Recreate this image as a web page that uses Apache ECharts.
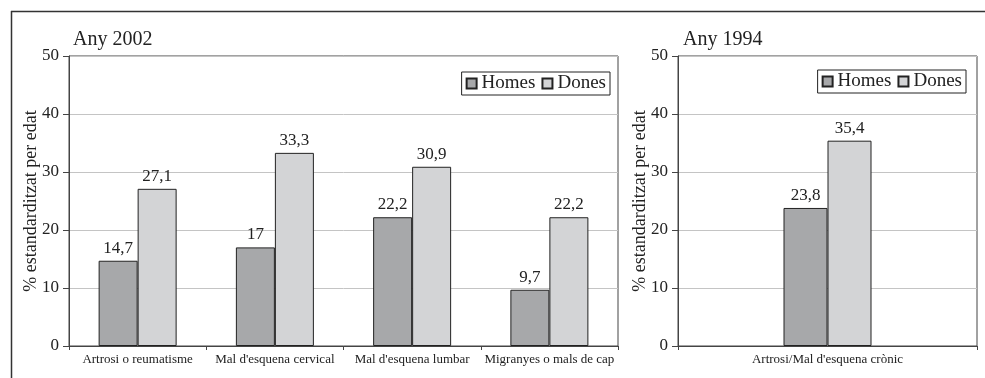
<!DOCTYPE html>
<html>
<head>
<meta charset="utf-8">
<script src="https://cdn.jsdelivr.net/npm/echarts@6/dist/echarts.min.js"></script>
<style>
  html, body { margin: 0; padding: 0; background: #fff; }
  #chart { width: 985px; height: 378px; }
</style>
</head>
<body>
<div id="chart"></div>
<script>
// Prevalence of musculoskeletal complaints, age-standardised %
const categories2002 = ['Artrosi o reumatisme', "Mal d'esquena cervical", "Mal d'esquena lumbar", 'Migranyes o mals de cap'];
const homes2002 = [14.7, 17, 22.2, 9.7];
const dones2002 = [27.1, 33.3, 30.9, 22.2];

const categories1994 = ["Artrosi/Mal d'esquena crònic"];
const homes1994 = [23.8];
const dones1994 = [35.4];

const yTicks = { min: 0, max: 50, interval: 10 };
const seriesNames = ['Homes', 'Dones'];

const FONT = '"Liberation Serif", "DejaVu Serif", serif';
const INK = '#222';
const COLOR_H = '#a7a8aa';
const COLOR_D = '#d3d4d6';

const fmt = p => String(p.value).replace('.', ',');

function yAxis(gridIndex) {
  return {
    type: 'value', gridIndex,
    min: yTicks.min, max: yTicks.max, interval: yTicks.interval,
    name: '% estandarditzat per edat',
    nameLocation: 'middle', nameRotate: 90, nameGap: 29, nameMoveOverlap: false,
    nameTextStyle: { fontFamily: FONT, fontSize: 18, color: INK },
    axisLine: { show: true, lineStyle: { color: '#444', width: 1 } },
    axisTick: { show: true, length: 6, lineStyle: { color: '#444' } },
    axisLabel: { fontFamily: FONT, fontSize: 17, color: INK, margin: 10 },
    splitLine: { lineStyle: { color: '#c4c4c4', width: 1 } }
  };
}
function xAxis(gridIndex, data) {
  return {
    type: 'category', gridIndex, data,
    axisLine: { show: true, lineStyle: { color: '#444', width: 1 } },
    axisTick: { show: true, length: 4, alignWithLabel: false, lineStyle: { color: '#444' } },
    axisLabel: { fontFamily: FONT, fontSize: 13, color: INK, margin: 7, interval: 0 }
  };
}
function bar(name, xIdx, data, color, width) {
  return {
    name, type: 'bar', xAxisIndex: xIdx, yAxisIndex: xIdx, data,
    barWidth: width, barGap: '0%',
    itemStyle: { color, borderColor: INK, borderWidth: 1 },
    label: { show: true, position: 'top', distance: 4, formatter: fmt,
             fontFamily: FONT, fontSize: 17, color: INK },
    emphasis: { disabled: true }
  };
}
function legend(right, top) {
  return {
    data: seriesNames, right, top, orient: 'horizontal',
    itemWidth: 10, itemHeight: 10, itemGap: 6,
    icon: 'rect',
    borderColor: INK, borderWidth: 1, padding: [2, 4, 2, 4],
    textStyle: { fontFamily: FONT, fontSize: 19, color: INK, padding: [0, 0, 0, 0] },
    selectedMode: false
  };
}

const chart = echarts.init(document.getElementById('chart'), null, { renderer: 'canvas' });
chart.setOption({
  animation: false,
  backgroundColor: '#fff',
  title: [
    { text: 'Any 2002', left: 68, top: 25, textStyle: { fontFamily: FONT, fontSize: 20, fontWeight: 'normal', color: INK } },
    { text: 'Any 1994', left: 678, top: 25, textStyle: { fontFamily: FONT, fontSize: 20, fontWeight: 'normal', color: INK } }
  ],
  legend: [legend(375, 72), legend(19, 70)],
  grid: [
    { left: 69, top: 56, width: 549, height: 290, show: true, borderColor: '#444', borderWidth: 1, containLabel: false },
    { left: 678, top: 56, width: 299, height: 290, show: true, borderColor: '#444', borderWidth: 1, containLabel: false }
  ],
  xAxis: [xAxis(0, categories2002), xAxis(1, categories1994)],
  yAxis: [yAxis(0), yAxis(1)],
  series: [
    bar(seriesNames[0], 0, homes2002, COLOR_H, 39),
    bar(seriesNames[1], 0, dones2002, COLOR_D, 39),
    bar(seriesNames[0], 1, homes1994, COLOR_H, 44),
    bar(seriesNames[1], 1, dones1994, COLOR_D, 44)
  ],
  graphic: [
    { type: 'line', shape: { x1: 11, y1: 11.5, x2: 985, y2: 11.5 }, style: { stroke: '#333', lineWidth: 1.5 } },
    { type: 'line', shape: { x1: 11.5, y1: 11, x2: 11.5, y2: 378 }, style: { stroke: '#333', lineWidth: 1.5 } }
  ]
});
</script>
</body>
</html>
